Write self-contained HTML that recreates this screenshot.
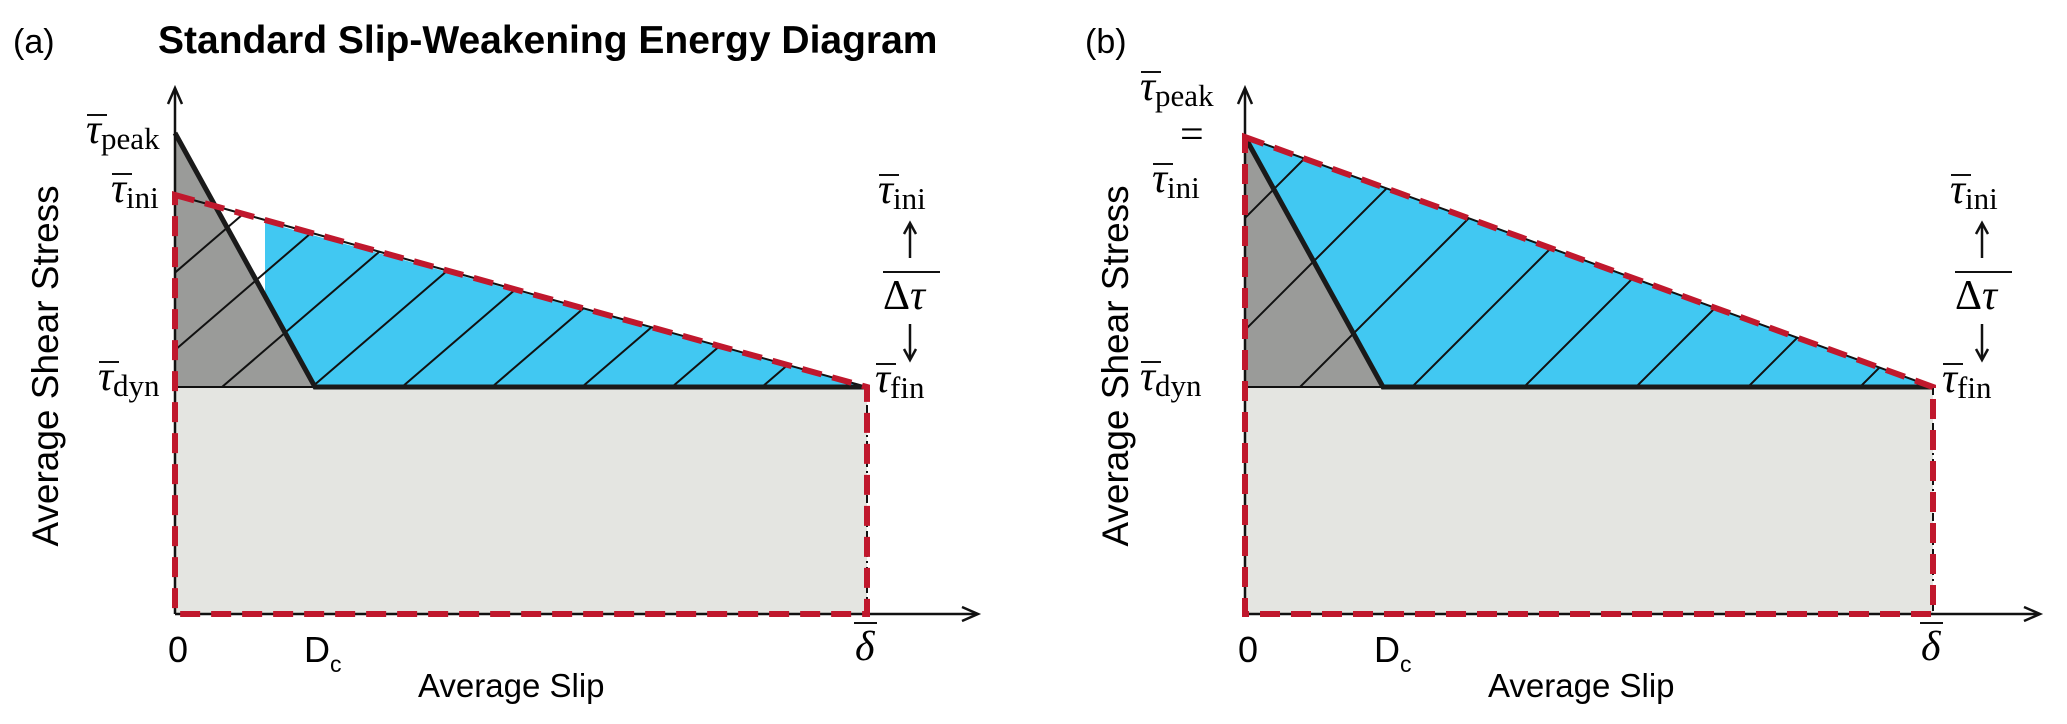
<!DOCTYPE html>
<html><head><meta charset="utf-8"><style>
html,body{margin:0;padding:0;background:#fff;width:2067px;height:724px;overflow:hidden}
svg{display:block}
.sans{font-family:"Liberation Sans",Arial,sans-serif}
.ser{font-family:"Liberation Serif","DejaVu Serif",serif}
</style></head><body>
<svg width="2067" height="724" viewBox="0 0 2067 724" xmlns="http://www.w3.org/2000/svg">
<defs>
<clipPath id="ca"><polygon points="175,195 867,387 175,387"/></clipPath>
<clipPath id="cb"><polygon points="1245,137 1933,387 1245,387"/></clipPath>
</defs>
<text x="13" y="53" class="sans" font-size="34">(a)</text>
<text x="1085" y="53" class="sans" font-size="34">(b)</text>
<text x="158" y="53" class="sans" font-size="39" font-weight="bold">Standard Slip-Weakening Energy Diagram</text>

<!-- ===== Panel A ===== -->
<rect x="175" y="387" width="692" height="227" fill="#e4e5e1"/>
<polygon points="175,133 315,387 175,387" fill="#9a9b99"/>
<polygon points="265,222 867,387 315,387 265,296" fill="#41c8f2"/>
<g clip-path="url(#ca)" stroke="#111" stroke-width="2">
<line x1="-138" y1="387" x2="312" y2="0"/>
<line x1="-48" y1="387" x2="402" y2="0"/>
<line x1="42" y1="387" x2="492" y2="0"/>
<line x1="132" y1="387" x2="582" y2="0"/>
<line x1="222" y1="387" x2="672" y2="0"/>
<line x1="312" y1="387" x2="762" y2="0"/>
<line x1="402" y1="387" x2="852" y2="0"/>
<line x1="492" y1="387" x2="942" y2="0"/>
<line x1="582" y1="387" x2="1032" y2="0"/>
<line x1="672" y1="387" x2="1122" y2="0"/>
<line x1="762" y1="387" x2="1212" y2="0"/>
<line x1="852" y1="387" x2="1302" y2="0"/>
</g>
<line x1="175" y1="387" x2="315" y2="387" stroke="#111" stroke-width="2"/>
<line x1="175" y1="195" x2="867" y2="387" stroke="#111" stroke-width="2"/>
<line x1="867" y1="387" x2="867" y2="614" stroke="#111" stroke-width="2" stroke-dasharray="8,4,2,4"/>
<polyline points="175,133 315,387 867,387" fill="none" stroke="#1a1a1a" stroke-width="5"/>
<line x1="175" y1="614" x2="175" y2="90" stroke="#111" stroke-width="2.5"/>
<polyline points="168,104 175,88 182,104" fill="none" stroke="#111" stroke-width="2.5"/>
<line x1="175" y1="614" x2="976" y2="614" stroke="#111" stroke-width="2.5"/>
<polyline points="962,607 978,614 962,621" fill="none" stroke="#111" stroke-width="2.5"/>
<polygon points="175,195 867,387 867,614 175,614" fill="none" stroke="#c0182d" stroke-width="6" stroke-dasharray="20,11"/>
<text transform="translate(58,366) rotate(-90)" text-anchor="middle" class="sans" font-size="37">Average Shear Stress</text>
<g class="ser" font-size="42">
<text x="86" y="143"><tspan font-style="italic">τ</tspan><tspan font-size="31" dy="6">peak</tspan></text>
<line x1="87" y1="115" x2="107" y2="115" stroke="#111" stroke-width="2"/>
<text x="111" y="202"><tspan font-style="italic">τ</tspan><tspan font-size="31" dy="6">ini</tspan></text>
<line x1="112" y1="174" x2="132" y2="174" stroke="#111" stroke-width="2"/>
<text x="98" y="390"><tspan font-style="italic">τ</tspan><tspan font-size="31" dy="6">dyn</tspan></text>
<line x1="99" y1="362" x2="119" y2="362" stroke="#111" stroke-width="2"/>
<text x="878" y="203"><tspan font-style="italic">τ</tspan><tspan font-size="31" dy="6">ini</tspan></text>
<line x1="879" y1="175" x2="899" y2="175" stroke="#111" stroke-width="2"/>
<text x="883" y="309">Δ<tspan font-style="italic">τ</tspan></text>
<line x1="883" y1="272" x2="940" y2="272" stroke="#111" stroke-width="2"/>
<text x="875" y="392"><tspan font-style="italic">τ</tspan><tspan font-size="31" dy="6">fin</tspan></text>
<line x1="876" y1="364" x2="896" y2="364" stroke="#111" stroke-width="2"/>
<text x="855" y="660" font-style="italic">δ</text>
<line x1="854" y1="623" x2="877" y2="623" stroke="#111" stroke-width="2"/>
</g>
<g stroke="#111" stroke-width="2.5" fill="none">
<line x1="910" y1="258" x2="910" y2="225"/><polyline points="904,234 910,223 916,234"/>
<line x1="910" y1="324" x2="910" y2="358"/><polyline points="904,349 910,360 916,349"/>
</g>
<g class="sans" font-size="36">
<text x="168" y="662">0</text>
<text x="304" y="662">D<tspan font-size="23" dy="10">c</tspan></text>
<text x="418" y="697" font-size="33">Average Slip</text>
</g>

<!-- ===== Panel B ===== -->
<rect x="1245" y="387" width="688" height="227" fill="#e4e5e1"/>
<polygon points="1245,137 1933,387 1245,387" fill="#41c8f2"/>
<polygon points="1245,137 1383,387 1245,387" fill="#9a9b99"/>
<g clip-path="url(#cb)" stroke="#111" stroke-width="2">
<line x1="964" y1="387" x2="1351" y2="0"/>
<line x1="1076" y1="387" x2="1463" y2="0"/>
<line x1="1188" y1="387" x2="1575" y2="0"/>
<line x1="1300" y1="387" x2="1687" y2="0"/>
<line x1="1412" y1="387" x2="1799" y2="0"/>
<line x1="1524" y1="387" x2="1911" y2="0"/>
<line x1="1636" y1="387" x2="2023" y2="0"/>
<line x1="1748" y1="387" x2="2135" y2="0"/>
<line x1="1860" y1="387" x2="2247" y2="0"/>
</g>
<line x1="1245" y1="387" x2="1383" y2="387" stroke="#111" stroke-width="2"/>
<line x1="1245" y1="137" x2="1933" y2="387" stroke="#111" stroke-width="2"/>
<line x1="1933" y1="387" x2="1933" y2="614" stroke="#111" stroke-width="2" stroke-dasharray="8,4,2,4"/>
<polyline points="1245,137 1383,387 1933,387" fill="none" stroke="#1a1a1a" stroke-width="5"/>
<line x1="1245" y1="614" x2="1245" y2="90" stroke="#111" stroke-width="2.5"/>
<polyline points="1238,104 1245,88 1252,104" fill="none" stroke="#111" stroke-width="2.5"/>
<line x1="1245" y1="614" x2="2038" y2="614" stroke="#111" stroke-width="2.5"/>
<polyline points="2024,607 2040,614 2024,621" fill="none" stroke="#111" stroke-width="2.5"/>
<polygon points="1245,137 1933,387 1933,614 1245,614" fill="none" stroke="#c0182d" stroke-width="6" stroke-dasharray="20,11"/>
<text transform="translate(1128,366) rotate(-90)" text-anchor="middle" class="sans" font-size="37">Average Shear Stress</text>
<g class="ser" font-size="42">
<text x="1140" y="100"><tspan font-style="italic">τ</tspan><tspan font-size="31" dy="6">peak</tspan></text>
<line x1="1141" y1="72" x2="1161" y2="72" stroke="#111" stroke-width="2"/>
<text x="1180" y="148">=</text>
<text x="1152" y="192"><tspan font-style="italic">τ</tspan><tspan font-size="31" dy="6">ini</tspan></text>
<line x1="1153" y1="164" x2="1173" y2="164" stroke="#111" stroke-width="2"/>
<text x="1140" y="390"><tspan font-style="italic">τ</tspan><tspan font-size="31" dy="6">dyn</tspan></text>
<line x1="1141" y1="362" x2="1161" y2="362" stroke="#111" stroke-width="2"/>
<text x="1950" y="203"><tspan font-style="italic">τ</tspan><tspan font-size="31" dy="6">ini</tspan></text>
<line x1="1951" y1="175" x2="1971" y2="175" stroke="#111" stroke-width="2"/>
<text x="1955" y="309">Δ<tspan font-style="italic">τ</tspan></text>
<line x1="1955" y1="272" x2="2012" y2="272" stroke="#111" stroke-width="2"/>
<text x="1942" y="392"><tspan font-style="italic">τ</tspan><tspan font-size="31" dy="6">fin</tspan></text>
<line x1="1943" y1="364" x2="1963" y2="364" stroke="#111" stroke-width="2"/>
<text x="1921" y="660" font-style="italic">δ</text>
<line x1="1920" y1="623" x2="1943" y2="623" stroke="#111" stroke-width="2"/>
</g>
<g stroke="#111" stroke-width="2.5" fill="none">
<line x1="1982" y1="258" x2="1982" y2="225"/><polyline points="1976,234 1982,223 1988,234"/>
<line x1="1982" y1="324" x2="1982" y2="358"/><polyline points="1976,349 1982,360 1988,349"/>
</g>
<g class="sans" font-size="36">
<text x="1238" y="662">0</text>
<text x="1374" y="662">D<tspan font-size="23" dy="10">c</tspan></text>
<text x="1488" y="697" font-size="33">Average Slip</text>
</g>
</svg>
</body></html>
